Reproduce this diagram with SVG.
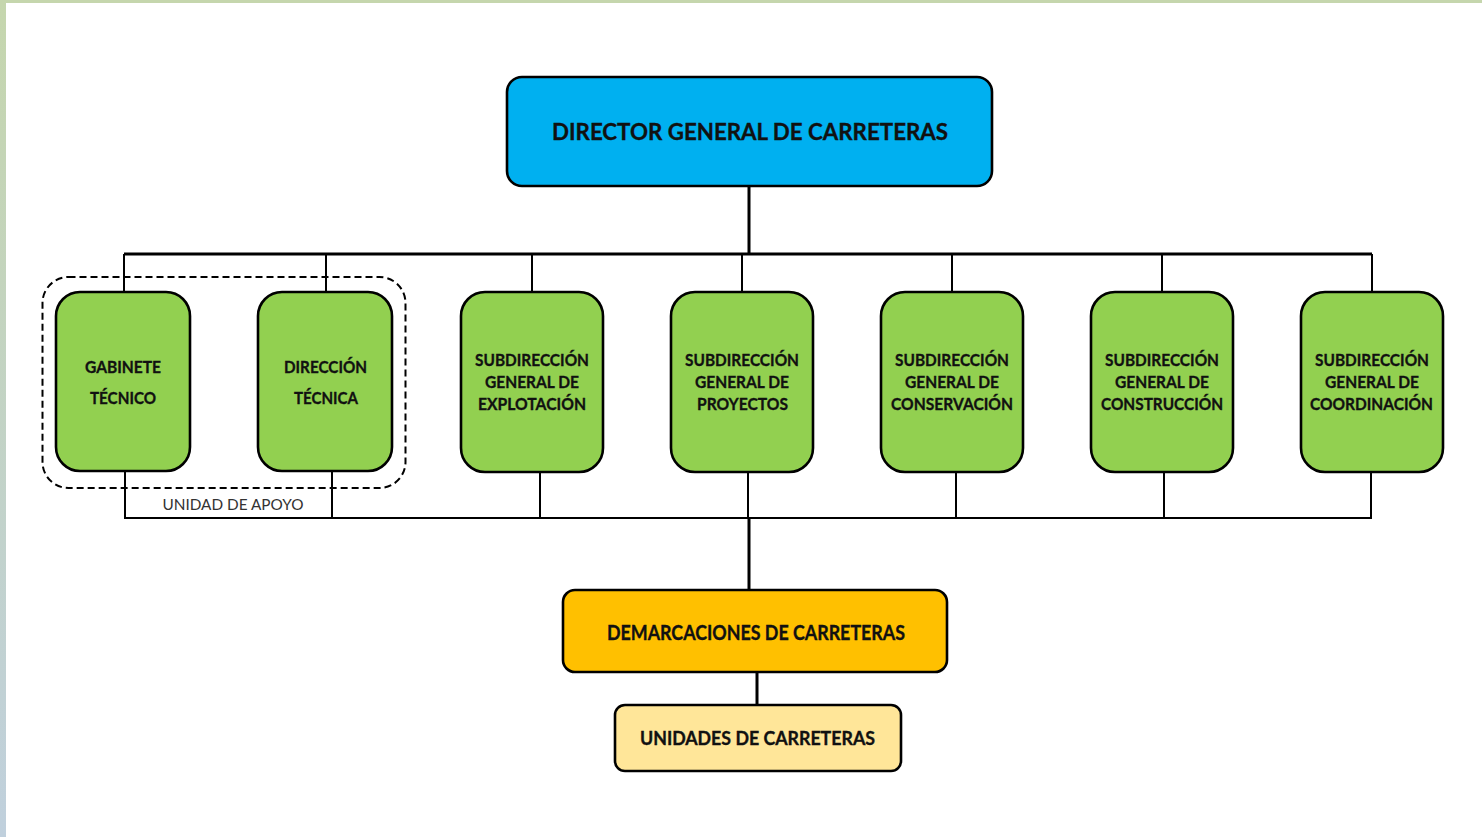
<svg xmlns="http://www.w3.org/2000/svg" width="1482" height="837" viewBox="0 0 1482 837">
<defs>
<linearGradient id="side" x1="0" y1="0" x2="0" y2="1">
<stop offset="0" stop-color="#c5d6ad"/>
<stop offset="1" stop-color="#c0d0dd"/>
</linearGradient>
</defs>
<style>
.box{stroke:#000;stroke-width:2.6}
.green{fill:#92d050}
.t{font-family:Lato,"Liberation Sans",sans-serif;font-weight:bold;fill:#111;stroke:#111;stroke-width:0.35;text-anchor:middle}
.g{font-size:17.5px}
.ln{fill:none;stroke:#000;stroke-width:2}
.lnb{fill:none;stroke:#000;stroke-width:3}
</style>
<rect x="0" y="0" width="1482" height="837" fill="#fff"/>
<rect x="0" y="0" width="1482" height="3" fill="#c5d6ad"/>
<rect x="0" y="0" width="6" height="837" fill="url(#side)"/>

<g id="connectors">
<path class="lnb" d="M749 186 V254 M124 254 H1372"/>
<path class="ln" d="M124 254 V292 M326 254 V292 M532 254 V292 M742 254 V292 M952 254 V292 M1162 254 V292 M1372 254 V292"/>
<path class="ln" d="M125 471 V518 M332 471 V518 M540 471 V518 M748 471 V518 M956 471 V518 M1164 471 V518 M1371 471 V518 M124 518 H1372"/>
<path class="lnb" d="M749 518 V590 M757 672 V705"/>
</g>

<g id="unidad-apoyo">
<rect x="42.5" y="277" width="363" height="211" rx="26" fill="none" stroke="#000" stroke-width="2" stroke-dasharray="7,4"/>
<text x="233" y="510" font-family="Lato,'Liberation Sans',sans-serif" font-size="16" fill="#333" text-anchor="middle" textLength="141" lengthAdjust="spacingAndGlyphs">UNIDAD DE APOYO</text>
</g>

<g id="director">
<rect class="box" x="507" y="77" width="485" height="109" rx="15" fill="#00b0f0"/>
<text class="t" x="750" y="140" font-size="23.5" textLength="396" lengthAdjust="spacingAndGlyphs">DIRECTOR GENERAL DE CARRETERAS</text>
</g>

<g id="gabinete">
<rect class="box green" x="56" y="292" width="134" height="179" rx="24"/>
<text class="t g" x="123" y="373" textLength="76" lengthAdjust="spacingAndGlyphs">GABINETE</text>
<text class="t g" x="123" y="404" textLength="66" lengthAdjust="spacingAndGlyphs">TÉCNICO</text>
</g>

<g id="direccion-tecnica">
<rect class="box green" x="258" y="292" width="134" height="179" rx="24"/>
<text class="t g" x="325.5" y="373" textLength="83" lengthAdjust="spacingAndGlyphs">DIRECCIÓN</text>
<text class="t g" x="326" y="404" textLength="64" lengthAdjust="spacingAndGlyphs">TÉCNICA</text>
</g>

<g id="explotacion">
<rect class="box green" x="461" y="292" width="142" height="180" rx="24"/>
<text class="t g" x="532" y="366" textLength="114" lengthAdjust="spacingAndGlyphs">SUBDIRECCIÓN</text>
<text class="t g" x="532" y="388" textLength="94" lengthAdjust="spacingAndGlyphs">GENERAL DE</text>
<text class="t g" x="532" y="410" textLength="108" lengthAdjust="spacingAndGlyphs">EXPLOTACIÓN</text>
</g>

<g id="proyectos">
<rect class="box green" x="671" y="292" width="142" height="180" rx="24"/>
<text class="t g" x="742" y="366" textLength="114" lengthAdjust="spacingAndGlyphs">SUBDIRECCIÓN</text>
<text class="t g" x="742" y="388" textLength="94" lengthAdjust="spacingAndGlyphs">GENERAL DE</text>
<text class="t g" x="742.5" y="410" textLength="91" lengthAdjust="spacingAndGlyphs">PROYECTOS</text>
</g>

<g id="conservacion">
<rect class="box green" x="881" y="292" width="142" height="180" rx="24"/>
<text class="t g" x="952" y="366" textLength="114" lengthAdjust="spacingAndGlyphs">SUBDIRECCIÓN</text>
<text class="t g" x="952" y="388" textLength="94" lengthAdjust="spacingAndGlyphs">GENERAL DE</text>
<text class="t g" x="952" y="410" textLength="122" lengthAdjust="spacingAndGlyphs">CONSERVACIÓN</text>
</g>

<g id="construccion">
<rect class="box green" x="1091" y="292" width="142" height="180" rx="24"/>
<text class="t g" x="1162" y="366" textLength="114" lengthAdjust="spacingAndGlyphs">SUBDIRECCIÓN</text>
<text class="t g" x="1162" y="388" textLength="94" lengthAdjust="spacingAndGlyphs">GENERAL DE</text>
<text class="t g" x="1162" y="410" textLength="122" lengthAdjust="spacingAndGlyphs">CONSTRUCCIÓN</text>
</g>

<g id="coordinacion">
<rect class="box green" x="1301" y="292" width="142" height="180" rx="24"/>
<text class="t g" x="1372" y="366" textLength="114" lengthAdjust="spacingAndGlyphs">SUBDIRECCIÓN</text>
<text class="t g" x="1372" y="388" textLength="94" lengthAdjust="spacingAndGlyphs">GENERAL DE</text>
<text class="t g" x="1371.5" y="410" textLength="123" lengthAdjust="spacingAndGlyphs">COORDINACIÓN</text>
</g>

<g id="demarcaciones">
<rect class="box" x="563" y="590" width="384" height="82" rx="12" fill="#ffc000"/>
<text class="t" x="756" y="640" font-size="20" textLength="298" lengthAdjust="spacingAndGlyphs">DEMARCACIONES DE CARRETERAS</text>
</g>

<g id="unidades">
<rect class="box" x="615" y="705" width="286" height="66" rx="10" fill="#ffe699"/>
<text class="t" x="757.5" y="745" font-size="18.5" textLength="235" lengthAdjust="spacingAndGlyphs">UNIDADES DE CARRETERAS</text>
</g>
</svg>
